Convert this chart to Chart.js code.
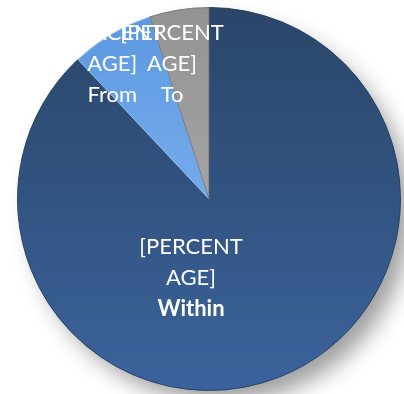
<!DOCTYPE html>
<html>
<head>
<meta charset="utf-8">
<script src="https://cdn.jsdelivr.net/npm/chart.js@4"></script>
<style>
  html, body { margin: 0; padding: 0; background: #fff; }
  #wrap { width: 404px; height: 394px; }
</style>
</head>
<body>
<div id="wrap"><canvas id="myChart"></canvas></div>
<script>
const categories = ["Within", "From", "To"];
const shares = [88, 7, 5];
const labelLines = [
  ["[PERCENT", "AGE]", "Within"],
  ["[PERCENT", "AGE]", "From"],
  ["[PERCENT", "AGE]", "To"],
];

// top -> bottom fill colours per slice
const fills = [
  ["#2a4568", "#3b639c"],
  ["#5a97e0", "#93c0f5"],
  ["#939393", "#b4b4b4"],
];

// label centres, as fractions of the radius from the pie centre
const labelAt = [
  { x: -0.094, y: 0.41, clipLeft: null },
  { x: -0.505, y: -0.706, clipLeft: 93 },
  { x: -0.193, y: -0.706, clipLeft: null },
];

const sliceFill = (context) => {
  const i = context.dataIndex;
  const area = context.chart.chartArea;
  if (!area) return fills[i][0];
  const g = context.chart.ctx.createLinearGradient(0, area.top, 0, area.bottom);
  g.addColorStop(0, fills[i][0]);
  g.addColorStop(1, fills[i][1]);
  return g;
};

const pieShadow = {
  id: "pieShadow",
  beforeDatasetsDraw(chart) {
    const arc = chart.getDatasetMeta(0).data[0];
    if (!arc) return;
    const ctx = chart.ctx;
    ctx.save();
    ctx.shadowColor = "rgba(0,0,0,0.38)";
    ctx.shadowBlur = 22;
    ctx.shadowOffsetX = 12;
    ctx.shadowOffsetY = 14;
    ctx.fillStyle = "#fff";
    ctx.beginPath();
    ctx.arc(arc.x, arc.y, arc.outerRadius - 2, 0, Math.PI * 2);
    ctx.fill();
    ctx.restore();
  },
};

const sliceLabels = {
  id: "sliceLabels",
  afterDatasetsDraw(chart) {
    const ctx = chart.ctx;
    const arcs = chart.getDatasetMeta(0).data;
    arcs.forEach((arc, i) => {
      const r = arc.outerRadius;
      const cx = arc.x + labelAt[i].x * r;
      const cy = arc.y + labelAt[i].y * r;
      const lines = labelLines[i];
      ctx.save();
      ctx.fillStyle = "#ffffff";
      ctx.textAlign = "center";
      ctx.textBaseline = "middle";
      lines.forEach((line, k) => {
        const y = cy + (k - 1) * 31;
        ctx.save();
        if (k === 0 && labelAt[i].clipLeft !== null) {
          ctx.beginPath();
          ctx.rect(labelAt[i].clipLeft, y - 20, 404, 40);
          ctx.clip();
        }
        ctx.font = (k === 2 && i === 0 ? "bold " : "") + "22px Lato";
        ctx.fillText(line, cx, y);
        ctx.restore();
      });
      ctx.restore();
    });
  },
};

const ctx = document.getElementById("myChart").getContext("2d");
new Chart(ctx, {
  type: "pie",
  data: {
    labels: categories,
    datasets: [
      {
        data: shares,
        backgroundColor: sliceFill,
        borderColor: ["rgba(35,60,95,0.9)", "rgba(150,195,245,0.9)", "rgba(110,110,110,0.8)"],
        borderWidth: 1,
      },
    ],
  },
  options: {
    responsive: true,
    maintainAspectRatio: false,
    animation: false,
    layout: { padding: { left: 17, right: 3, top: 7, bottom: 3 } },
    plugins: {
      legend: { display: false },
      tooltip: { enabled: false },
    },
  },
  plugins: [pieShadow, sliceLabels],
});
</script>
</body>
</html>
